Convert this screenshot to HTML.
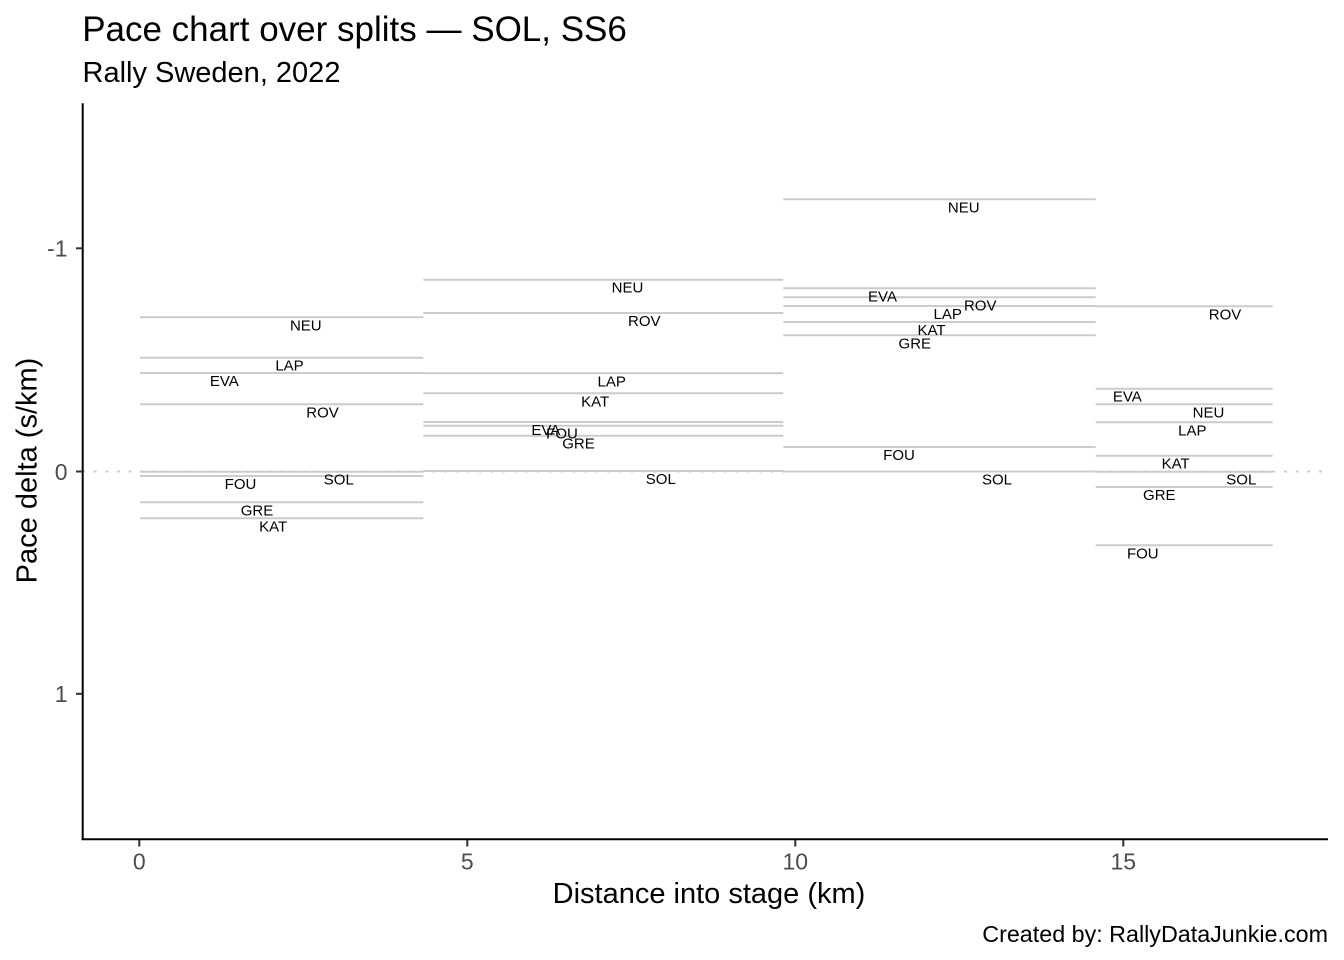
<!DOCTYPE html>
<html>
<head>
<meta charset="utf-8">
<style>
  html, body { margin:0; padding:0; background:#ffffff; }
  svg { display:block; }
  text { font-family: "Liberation Sans", Arial, sans-serif; }
</style>
</head>
<body>
<svg width="1344" height="960" viewBox="0 0 1344 960" xmlns="http://www.w3.org/2000/svg">
  <rect x="0" y="0" width="1344" height="960" fill="#ffffff"/>

  <!-- Title / subtitle -->
  <text x="82.2" y="41" font-size="35" fill="#000">Pace chart over splits — SOL, SS6</text>
  <text x="82.5" y="82" font-size="29" fill="#000">Rally Sweden, 2022</text>

  <!-- zero reference dotted line -->
  <line x1="82" y1="471.5" x2="1328" y2="471.5" stroke="#cccccc" stroke-width="2" stroke-dasharray="2.9,8.77"/>

  <!-- segments -->
  <g stroke="#cccccc" stroke-width="2" fill="none">
    <!-- seg 1 -->
    <line x1="140" x2="423.3" y1="317.3" y2="317.3"/>
    <line x1="140" x2="423.3" y1="357.7" y2="357.7"/>
    <line x1="140" x2="423.3" y1="373" y2="373"/>
    <line x1="140" x2="423.3" y1="404.3" y2="404.3"/>
    <line x1="140" x2="423.3" y1="471.7" y2="471.7"/>
    <line x1="140" x2="423.3" y1="476" y2="476"/>
    <line x1="140" x2="423.3" y1="502.3" y2="502.3"/>
    <line x1="140" x2="423.3" y1="518.3" y2="518.3"/>
    <!-- seg 2 -->
    <line x1="423.3" x2="783.3" y1="279.7" y2="279.7"/>
    <line x1="423.3" x2="783.3" y1="313" y2="313"/>
    <line x1="423.3" x2="783.3" y1="373.3" y2="373.3"/>
    <line x1="423.3" x2="783.3" y1="393.3" y2="393.3"/>
    <line x1="423.3" x2="783.3" y1="422" y2="422"/>
    <line x1="423.3" x2="783.3" y1="425.7" y2="425.7"/>
    <line x1="423.3" x2="783.3" y1="435.7" y2="435.7"/>
    <line x1="423.3" x2="783.3" y1="471" y2="471"/>
    <!-- seg 3 -->
    <line x1="783.3" x2="1095.7" y1="199.3" y2="199.3"/>
    <line x1="783.3" x2="1095.7" y1="288.3" y2="288.3"/>
    <line x1="783.3" x2="1095.7" y1="297.3" y2="297.3"/>
    <line x1="783.3" x2="1095.7" y1="306" y2="306"/>
    <line x1="783.3" x2="1095.7" y1="322" y2="322"/>
    <line x1="783.3" x2="1095.7" y1="335.3" y2="335.3"/>
    <line x1="783.3" x2="1095.7" y1="447" y2="447"/>
    <line x1="783.3" x2="1095.7" y1="471.5" y2="471.5"/>
    <!-- seg 4 -->
    <line x1="1095.7" x2="1272.7" y1="306.3" y2="306.3"/>
    <line x1="1095.7" x2="1272.7" y1="388.7" y2="388.7"/>
    <line x1="1095.7" x2="1272.7" y1="404.3" y2="404.3"/>
    <line x1="1095.7" x2="1272.7" y1="422.3" y2="422.3"/>
    <line x1="1095.7" x2="1272.7" y1="455.7" y2="455.7"/>
    <line x1="1095.7" x2="1272.7" y1="471.7" y2="471.7"/>
    <line x1="1095.7" x2="1272.7" y1="487" y2="487"/>
    <line x1="1095.7" x2="1272.7" y1="545.3" y2="545.3"/>
  </g>

  <!-- labels -->
  <g font-size="15" fill="#000" text-anchor="middle">
    <!-- seg 1 -->
    <text x="305.8" y="330.3">NEU</text>
    <text x="289.5" y="370.7">LAP</text>
    <text x="224.3" y="386">EVA</text>
    <text x="322.5" y="417.3">ROV</text>
    <text x="240.5" y="489">FOU</text>
    <text x="338.8" y="484.7">SOL</text>
    <text x="257" y="515.3">GRE</text>
    <text x="273.2" y="531.3">KAT</text>
    <!-- seg 2 -->
    <text x="627.5" y="292.7">NEU</text>
    <text x="644.3" y="326">ROV</text>
    <text x="611.7" y="386.3">LAP</text>
    <text x="595.2" y="406.3">KAT</text>
    <text x="545.8" y="435">EVA</text>
    <text x="562" y="438.7">FOU</text>
    <text x="578.5" y="448.7">GRE</text>
    <text x="660.8" y="484">SOL</text>
    <!-- seg 3 -->
    <text x="963.7" y="212.3">NEU</text>
    <text x="882.5" y="301.3">EVA</text>
    <text x="980.2" y="310.3">ROV</text>
    <text x="947.7" y="319">LAP</text>
    <text x="931.5" y="335">KAT</text>
    <text x="914.8" y="348.3">GRE</text>
    <text x="899" y="460">FOU</text>
    <text x="997" y="484.5">SOL</text>
    <!-- seg 4 -->
    <text x="1225" y="319.3">ROV</text>
    <text x="1127.3" y="401.7">EVA</text>
    <text x="1208.5" y="417.3">NEU</text>
    <text x="1192.3" y="435.3">LAP</text>
    <text x="1175.7" y="468.7">KAT</text>
    <text x="1241.3" y="484.7">SOL</text>
    <text x="1159.3" y="500">GRE</text>
    <text x="1142.8" y="558.3">FOU</text>
  </g>

  <!-- axes -->
  <line x1="82.7" y1="103.3" x2="82.7" y2="840" stroke="#000" stroke-width="2"/>
  <line x1="81.7" y1="839.3" x2="1328" y2="839.3" stroke="#000" stroke-width="2"/>

  <!-- ticks -->
  <g stroke="#333333" stroke-width="2">
    <line x1="76" x2="82" y1="248.3" y2="248.3"/>
    <line x1="76" x2="82" y1="471.5" y2="471.5"/>
    <line x1="76" x2="82" y1="693.8" y2="693.8"/>
    <line x1="139.3" x2="139.3" y1="840" y2="846.5"/>
    <line x1="467.3" x2="467.3" y1="840" y2="846.5"/>
    <line x1="795.3" x2="795.3" y1="840" y2="846.5"/>
    <line x1="1123.3" x2="1123.3" y1="840" y2="846.5"/>
  </g>

  <!-- tick labels -->
  <g font-size="23" fill="#4d4d4d">
    <text x="67.5" y="256.6" text-anchor="end">-1</text>
    <text x="67.5" y="479.8" text-anchor="end">0</text>
    <text x="67.5" y="702" text-anchor="end">1</text>
    <text x="139.3" y="869.5" text-anchor="middle">0</text>
    <text x="467.3" y="869.5" text-anchor="middle">5</text>
    <text x="795.3" y="869.5" text-anchor="middle">10</text>
    <text x="1123.3" y="869.5" text-anchor="middle">15</text>
  </g>

  <!-- axis titles -->
  <text x="709" y="903" font-size="29" fill="#000" text-anchor="middle">Distance into stage (km)</text>
  <text transform="translate(36.7,470.5) rotate(-90)" font-size="29" fill="#000" text-anchor="middle">Pace delta (s/km)</text>

  <!-- caption -->
  <text x="1328" y="942" font-size="23.3" fill="#000" text-anchor="end">Created by: RallyDataJunkie.com</text>
</svg>
</body>
</html>
